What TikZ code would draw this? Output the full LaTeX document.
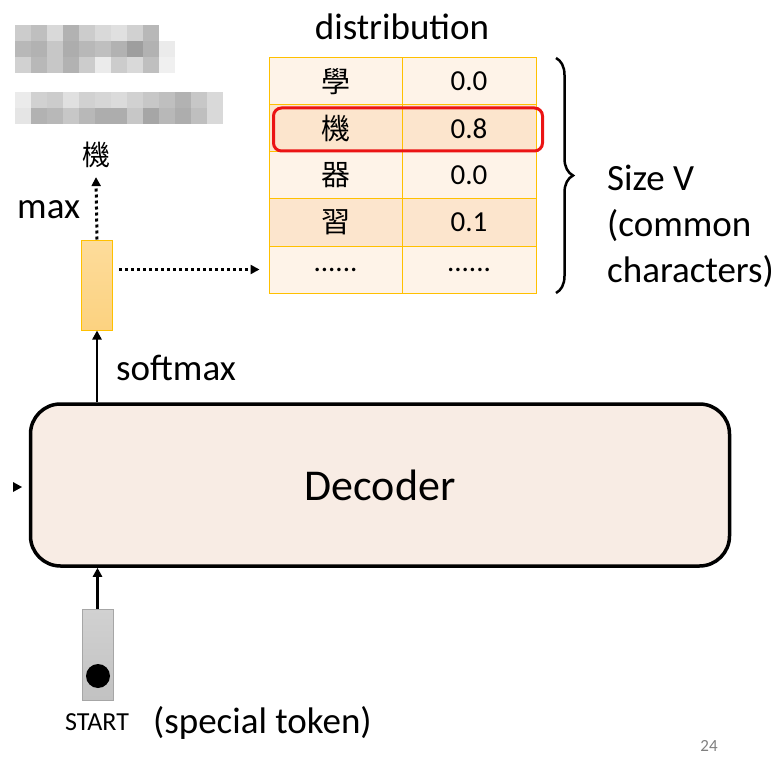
\documentclass[tikz,border=0pt]{standalone}
\usepackage{fontspec}
\setmainfont{Carlito}
\newfontfamily\cjk{Noto Sans CJK TC}
\usetikzlibrary{arrows.meta,decorations.pathreplacing,calc}
\definecolor{rowA}{RGB}{254,243,232}
\definecolor{rowB}{RGB}{252,229,205}
\definecolor{tblborder}{RGB}{255,192,0}
\definecolor{decfill}{RGB}{248,236,228}
\definecolor{hlred}{RGB}{235,20,20}
\definecolor{pgray}{RGB}{128,128,128}
\definecolor{probtop}{RGB}{253,220,155}
\definecolor{probbot}{RGB}{252,210,128}
\tikzset{
  cell/.style={draw=tblborder, line width=1pt, minimum height=47pt, inner sep=0pt, font=\fontsize{29}{32}\selectfont},
  cellL/.style={cell, minimum width=133pt},
  cellR/.style={cell, minimum width=134pt},
  lbl/.style={font=\fontsize{37}{44}\selectfont, inner sep=0pt},
  solidarrow/.style={line width=2.5pt, -{Triangle[length=9pt,width=9pt]}},
  dotarrow/.style={line width=3pt, dash pattern=on 3pt off 3pt, -{Triangle[length=9pt,width=9pt]}},
}
\begin{document}
\begin{tikzpicture}[x=1pt,y=-1pt]
\useasboundingbox (0,0) rectangle (777,757);
% blurred text blocks
\foreach \g [count=\i from 0] in {20,25,15,30,20,15,12,18,28} {\fill[black!\g] ({15+16*\i},25) rectangle ++(16,16);}
\foreach \g [count=\i from 0] in {28,30,22,32,28,25,30,38,30,8} {\fill[black!\g] ({15+16*\i},41) rectangle ++(16,16);}
\foreach \g [count=\i from 0] in {18,28,22,30,20,8,20,15,25,6} {\fill[black!\g] ({15+16*\i},57) rectangle ++(16,16);}
\foreach \g [count=\i from 0] in {8,18,20,12,18,16,14,18,22,25,30,22,15} {\fill[black!\g] ({15+16*\i},92) rectangle ++(16,16);}
\foreach \g [count=\i from 0] in {10,30,28,22,28,32,32,22,35,28,32,25,15} {\fill[black!\g] ({15+16*\i},108) rectangle ++(16,16);}

% table
\node[lbl] (dist) at (402,27) {distribution};
\node[cellL, fill=rowA] (r1a) at (335.5,81.5) {\cjk 學};
\node[cellR, fill=rowA] (r1b) at (469,81.5) {0.0};
\node[cellL, fill=rowB] (r2a) at (335.5,128.5) {\cjk 機};
\node[cellR, fill=rowB] (r2b) at (469,128.5) {0.8};
\node[cellL, fill=rowA] (r3a) at (335.5,175.5) {\cjk 器};
\node[cellR, fill=rowA] (r3b) at (469,175.5) {0.0};
\node[cellL, fill=rowB] (r4a) at (335.5,222.5) {\cjk 習};
\node[cellR, fill=rowB] (r4b) at (469,222.5) {0.1};
\node[cellL, fill=rowA] (r5a) at (335.5,269.5) {\raisebox{-4pt}{......}};
\node[cellR, fill=rowA] (r5b) at (469,269.5) {\raisebox{-4pt}{......}};
\node[draw=hlred, line width=3pt, rounded corners=8pt, minimum width=269pt, minimum height=43pt, inner sep=0pt] (hl) at (408,129.5) {};

% brace
\coordinate (bt) at (556,58);
\coordinate (bb) at (556,293);
\draw[line width=2.5pt, decorate, decoration={brace, amplitude=17pt}] (bt) -- (bb);
\node[lbl, anchor=west, align=left, font=\fontsize{37}{46}\selectfont] (sizev) at (607,226) {Size V\\(common\\characters)};

% probability vector
\node[draw=tblborder, line width=1pt, top color=probtop, bottom color=probbot, minimum width=31pt, minimum height=90pt, inner sep=0pt] (prob) at (97,285) {};
\node[font=\cjk\fontsize{28}{30}\selectfont, inner sep=0pt] (ji) at (96,155) {機};
\draw[dotarrow] (prob.north) -- ([yshift=-9pt]ji.south);
\node[lbl, anchor=west] (maxl) at (17,210) {max};
\draw[dotarrow] ([xshift=6pt]prob.east |- r5a.west) -- ([xshift=-9pt]r5a.west);

% decoder
\node[draw, line width=3.5pt, fill=decfill, rounded corners=30pt, minimum width=699pt, minimum height=162pt, inner sep=0pt, font=\fontsize{44}{50}\selectfont] (dec) at (380,485) {Decoder};
\draw[solidarrow] (prob.south |- dec.north) -- (prob.south);
\node[lbl, anchor=west] (smx) at (116,368) {softmax};
\fill (13,482) -- (22,487) -- (13,492) -- cycle;

% start token
\node[draw=black!35, line width=1pt, top color=black!18, bottom color=black!24, minimum width=31pt, minimum height=91pt, inner sep=0pt] (start) at (97.5,654.5) {};
\fill (98,676) circle (12pt);
\draw[solidarrow] (start.north) -- (start.north |- dec.south);
\node[font=\fontsize{26}{30}\selectfont, inner sep=0pt] (startl) at (97,722) {START};
\node[lbl, anchor=west] (spec) at (153,723) {(special token)};
\node[font=\fontsize{17}{20}\selectfont, text=pgray, inner sep=0pt] (pg) at (709,746) {24};
\end{tikzpicture}
\end{document}
